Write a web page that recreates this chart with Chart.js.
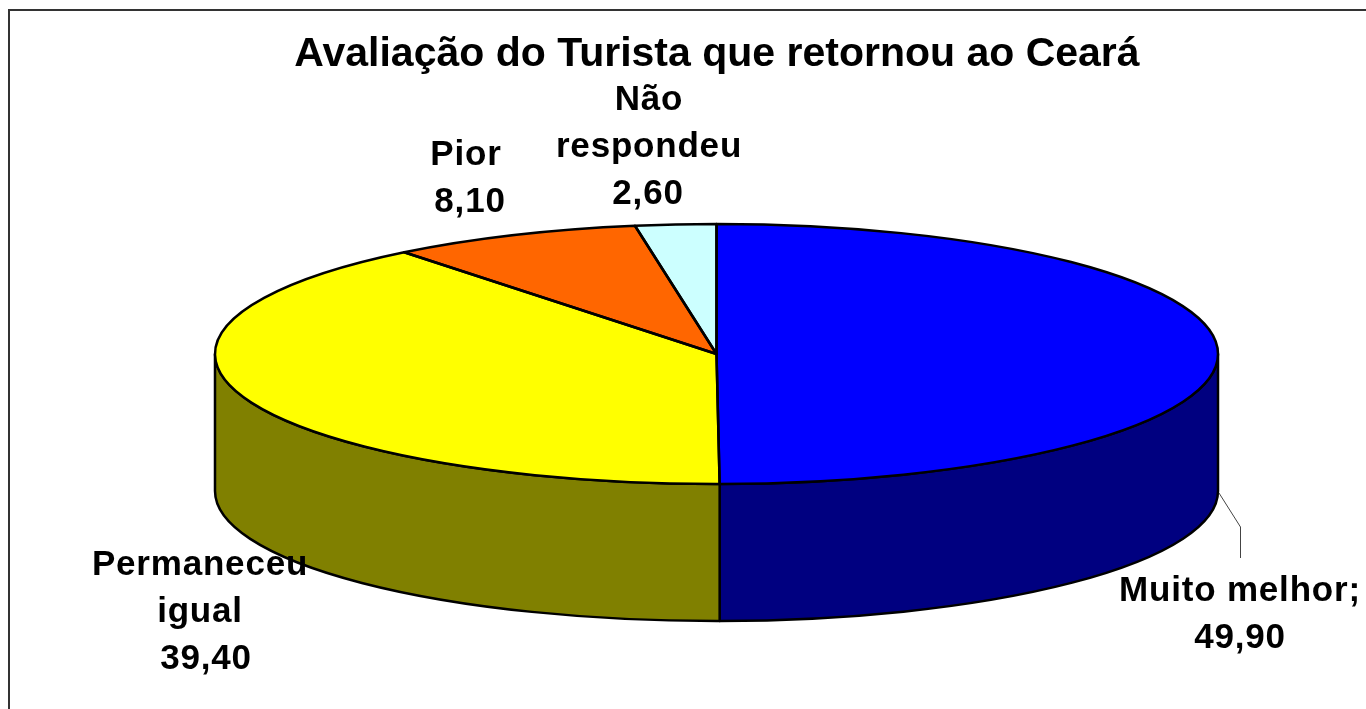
<!DOCTYPE html>
<html lang="pt">
<head>
<meta charset="utf-8">
<title>Avaliação do Turista que retornou ao Ceará</title>
<style>html,body{margin:0;padding:0;background:#fff}canvas{display:block}</style>
<script src="https://cdn.jsdelivr.net/npm/chart.js@4/dist/chart.umd.min.js"></script>
</head>
<body>
<canvas id="c" width="1366" height="709"></canvas>
<script>
const titleText = "Avaliação do Turista que retornou ao Ceará";
const categories = ["Muito melhor", "Permaneceu igual", "Pior", "Não respondeu"];
const seriesValues = [49.9, 39.4, 8.1, 2.6];
const topColors = ["#0000FF", "#FFFF00", "#FF6600", "#CCFFFF"];
const sideColors = ["#000080", "#808000", "#803300", "#668080"];
const labelLines = [["Muito melhor;"], ["Permaneceu", "igual"], ["Pior"], ["Não", "respondeu"]];

// Shape of the tilted pie on the page
const PIE = { cx: 716.5, cy: 354, rx: 501.5, ry: 130, depth: 137 };
// Label anchors: centre x per line, baseline of first line
const LABEL_POS = [
  { xs: [1240, 1240], y: 601 },
  { xs: [200, 200, 206], y: 575 },
  { xs: [466, 470], y: 165 },
  { xs: [649, 649, 648], y: 110 }
];
const LABEL_FONT = 'bold 35px "Liberation Sans", Arial, sans-serif';
const LINE_GAP = 47;

function wedge(ctx, a0, a1) {
  ctx.beginPath();
  ctx.moveTo(PIE.cx, PIE.cy);
  ctx.ellipse(PIE.cx, PIE.cy, PIE.rx, PIE.ry, 0, a0, a1);
  ctx.closePath();
}

const pie3d = {
  id: "pie3d",
  beforeDraw(chart) {
    const ctx = chart.ctx;
    ctx.save();
    ctx.strokeStyle = "#333";
    ctx.lineWidth = 2;
    ctx.strokeRect(9, 10, 1400, 760);
    ctx.restore();
  },
  beforeDatasetsDraw(chart) {
    const ctx = chart.ctx;
    const arcs = chart.getDatasetMeta(0).data;
    // side wall: the part of every slice facing the viewer
    arcs.forEach((arc, i) => {
      const a0 = Math.max(arc.startAngle, 0);
      const a1 = Math.min(arc.endAngle, Math.PI);
      if (a1 <= a0) return;
      ctx.save();
      ctx.beginPath();
      ctx.ellipse(PIE.cx, PIE.cy, PIE.rx, PIE.ry, 0, a0, a1);
      ctx.ellipse(PIE.cx, PIE.cy + PIE.depth, PIE.rx, PIE.ry, 0, a1, a0, true);
      ctx.closePath();
      ctx.fillStyle = sideColors[i];
      ctx.fill();
      ctx.strokeStyle = "#000";
      ctx.lineWidth = 2.5;
      ctx.lineJoin = "round";
      ctx.stroke();
      ctx.restore();
    });
    // flatten the pie the library draws into the top ellipse
    const a = arcs[0];
    ctx.save();
    ctx.translate(PIE.cx, PIE.cy);
    ctx.scale(PIE.rx / a.outerRadius, PIE.ry / a.outerRadius);
    ctx.translate(-a.x, -a.y);
  },
  afterDatasetsDraw(chart) {
    const ctx = chart.ctx;
    ctx.restore();
    const arcs = chart.getDatasetMeta(0).data;
    ctx.save();
    ctx.strokeStyle = "#000";
    ctx.lineWidth = 2.5;
    ctx.lineJoin = "round";
    arcs.forEach(arc => { wedge(ctx, arc.startAngle, arc.endAngle); ctx.stroke(); });
    ctx.restore();

    // leader line of the first label
    ctx.save();
    ctx.strokeStyle = "#444";
    ctx.lineWidth = 1;
    ctx.beginPath();
    ctx.moveTo(1219, 493);
    ctx.lineTo(1240.5, 527);
    ctx.lineTo(1240.5, 558);
    ctx.stroke();
    ctx.restore();

    // data labels
    ctx.save();
    ctx.font = LABEL_FONT;
    ctx.fillStyle = "#000";
    ctx.textAlign = "center";
    ctx.textBaseline = "alphabetic";
    ctx.letterSpacing = "0.8px";
    seriesValues.forEach((v, i) => {
      const lines = labelLines[i].concat(v.toFixed(2).replace(".", ","));
      const pos = LABEL_POS[i];
      lines.forEach((t, k) => ctx.fillText(t, pos.xs[k], pos.y + k * LINE_GAP));
    });
    ctx.restore();
  }
};

new Chart(document.getElementById("c"), {
  type: "pie",
  data: {
    labels: categories,
    datasets: [{
      data: seriesValues,
      backgroundColor: topColors,
      borderWidth: 0,
      clip: false
    }]
  },
  options: {
    responsive: false,
    animation: false,
    devicePixelRatio: 1,
    layout: { padding: { left: 68, top: 0, right: 0, bottom: 0 } },
    events: [],
    plugins: {
      legend: { display: false },
      tooltip: { enabled: false },
      title: {
        display: true,
        text: titleText,
        fullSize: false,
        color: "#000",
        font: { family: '"Liberation Sans", Arial, sans-serif', size: 41, weight: "bold", lineHeight: 1.2 },
        padding: { top: 30, bottom: 10 }
      }
    }
  },
  plugins: [pie3d]
});
</script>
</body>
</html>
